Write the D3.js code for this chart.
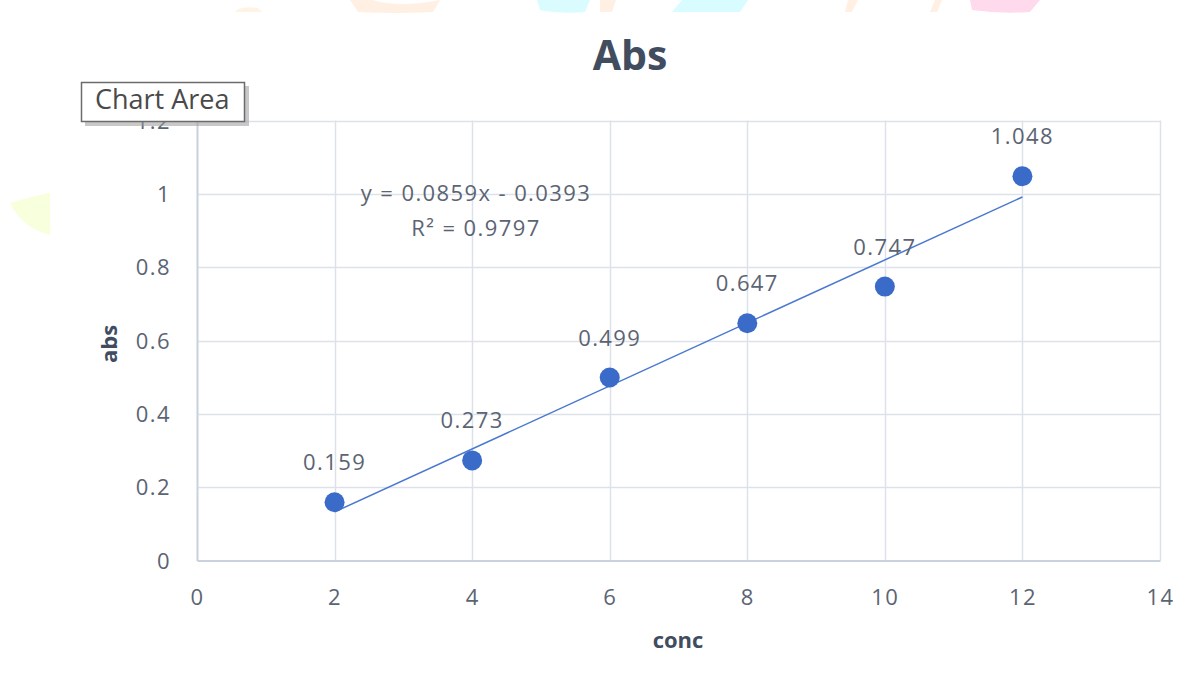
<!DOCTYPE html>
<html>
<head>
<meta charset="utf-8">
<script src="https://cdn.jsdelivr.net/npm/d3@7/dist/d3.min.js"></script>
<style>
  html, body { margin: 0; padding: 0; background: #fff; }
  svg { display: block; }
</style>
</head>
<body>
<svg id="chart" width="1200" height="689"></svg>
<script>
// Calibration data: concentration vs absorbance
const conc = [2, 4, 6, 8, 10, 12];
const absValues = [0.159, 0.273, 0.499, 0.647, 0.747, 1.048];
const xTicks = [0, 2, 4, 6, 8, 10, 12, 14];
const yTicks = [0, 0.2, 0.4, 0.6, 0.8, 1, 1.2];
const slope = 0.0859;
const intercept = -0.0393;
const r2 = 0.9797;

const svg = d3.select("#chart");
const font = "'Open Sans', 'Noto Sans', sans-serif";
const tickColor = "#5b6473";
const titleColor = "#414d5f";
const gridColor = "#dde2ea";
const blue = "#3b6bc9";
const spacing = 1.4;

// pale decorative shapes along the top edge and left side
const deco = svg.append("g");
deco.append("path").attr("d", "M350,0 L372,0 Q400,8 440,0 L433,12 Q395,14 358,12 Z").attr("fill", "#fff0e3");
deco.append("path").attr("d", "M235,12 L262,12 L258,8 Q248,6 238,9 Z").attr("fill", "#fff3e6");
deco.append("path").attr("d", "M537,0 L590,0 L585,12 Q560,14 540,10 Z").attr("fill", "#dbfcff");
deco.append("path").attr("d", "M600,0 L616,0 L612,12 L600,12 Z").attr("fill", "#fff0e3");
deco.append("path").attr("d", "M682,0 L748,0 L740,12 L672,12 Z").attr("fill", "#d8fcff");
deco.append("path").attr("d", "M848,0 L858,0 L852,12 L845,12 Z").attr("fill", "#fff0e3");
deco.append("path").attr("d", "M935,0 L942,0 L937,12 L930,12 Z").attr("fill", "#fff0e3");
deco.append("path").attr("d", "M970,0 L1040,0 L1030,12 Q1000,14 972,10 Z").attr("fill", "#ffd9ec");
deco.append("path").attr("d", "M50,193 Q25,198 10,203 Q22,228 50,235 Z").attr("fill", "#f8ffdc");

const x = d3.scaleLinear().domain([0, 14]).range([197, 1160]);
const y = d3.scaleLinear().domain([0, 1.2]).range([560.5, 120.5]);

// gridlines
const grid = svg.append("g");
grid.selectAll(".hg").data(yTicks.slice(1)).join("line")
  .attr("x1", x(0)).attr("x2", x(14))
  .attr("y1", d => Math.round(y(d)) + 0.5).attr("y2", d => Math.round(y(d)) + 0.5)
  .attr("stroke", gridColor).attr("stroke-width", 1.5);
grid.selectAll(".vg").data(xTicks.slice(1)).join("line")
  .attr("y1", y(0)).attr("y2", y(1.2))
  .attr("x1", d => Math.round(x(d)) + 0.5).attr("x2", d => Math.round(x(d)) + 0.5)
  .attr("stroke", gridColor).attr("stroke-width", 1.5);

// axes
const xAxis = svg.append("g").attr("transform", `translate(0,${y(0)})`)
  .call(d3.axisBottom(x).tickValues(xTicks).tickSize(0).tickPadding(37).tickFormat(d3.format("d")));
const yAxis = svg.append("g").attr("transform", `translate(${x(0)},0)`)
  .call(d3.axisLeft(y).tickValues(yTicks).tickSize(0).tickPadding(26).tickFormat(d => d3.format("")(d)));
[xAxis, yAxis].forEach(a => {
  a.select(".domain").attr("stroke", "#c9d1dd").attr("stroke-width", 2);
  a.selectAll("text").attr("font-family", font).attr("font-size", 22)
    .attr("letter-spacing", spacing).attr("fill", tickColor).attr("dy", "0.35em");
});

// trendline over the data range
svg.append("line")
  .attr("x1", x(d3.min(conc))).attr("y1", y(slope * d3.min(conc) + intercept))
  .attr("x2", x(d3.max(conc))).attr("y2", y(slope * d3.max(conc) + intercept))
  .attr("stroke", "#4a78d0").attr("stroke-width", 1.5);

// data points
const pts = conc.map((c, i) => ({ c, v: absValues[i] }));
svg.selectAll(".dot").data(pts).join("circle")
  .attr("cx", d => x(d.c)).attr("cy", d => y(d.v))
  .attr("r", 10).attr("fill", blue);

// value labels
svg.selectAll(".vl").data(pts).join("text")
  .attr("x", d => x(d.c)).attr("y", d => y(d.v) - 32)
  .attr("text-anchor", "middle")
  .attr("font-family", font).attr("font-size", 22).attr("letter-spacing", spacing).attr("fill", tickColor)
  .text(d => d3.format(".3f")(d.v));

// regression equation
svg.append("text").attr("x", 476).attr("y", 201).attr("text-anchor", "middle")
  .attr("font-family", font).attr("font-size", 22).attr("letter-spacing", spacing).attr("fill", tickColor)
  .text(`y = ${slope}x - ${Math.abs(intercept)}`);
svg.append("text").attr("x", 476).attr("y", 236).attr("text-anchor", "middle")
  .attr("font-family", font).attr("font-size", 22).attr("letter-spacing", spacing).attr("fill", tickColor)
  .text(`R² = ${r2}`);

// titles
svg.append("text").attr("x", 630).attr("y", 70).attr("text-anchor", "middle")
  .attr("font-family", font).attr("font-size", 41).attr("font-weight", "bold").attr("fill", titleColor)
  .text("Abs");
svg.append("text").attr("x", 678).attr("y", 648).attr("text-anchor", "middle")
  .attr("font-family", font).attr("font-size", 22).attr("font-weight", "bold").attr("fill", titleColor)
  .text("conc");
svg.append("text").attr("transform", "translate(117,344) rotate(-90)").attr("text-anchor", "middle")
  .attr("font-family", font).attr("font-size", 22).attr("font-weight", "bold").attr("fill", titleColor)
  .text("abs");

// hover tooltip box
const tip = svg.append("g");
tip.append("rect").attr("x", 85).attr("y", 86).attr("width", 164).attr("height", 40).attr("fill", "#9a9a9a").attr("opacity", 0.55);
tip.append("rect").attr("x", 81.5).attr("y", 82.5).attr("width", 163).attr("height", 39).attr("fill", "#fff").attr("stroke", "#6b6b6b").attr("stroke-width", 1.5);
tip.append("text").attr("x", 95).attr("y", 109)
  .attr("font-family", font).attr("font-size", 27).attr("fill", "#4a4a4a")
  .text("Chart Area");
</script>
</body>
</html>
